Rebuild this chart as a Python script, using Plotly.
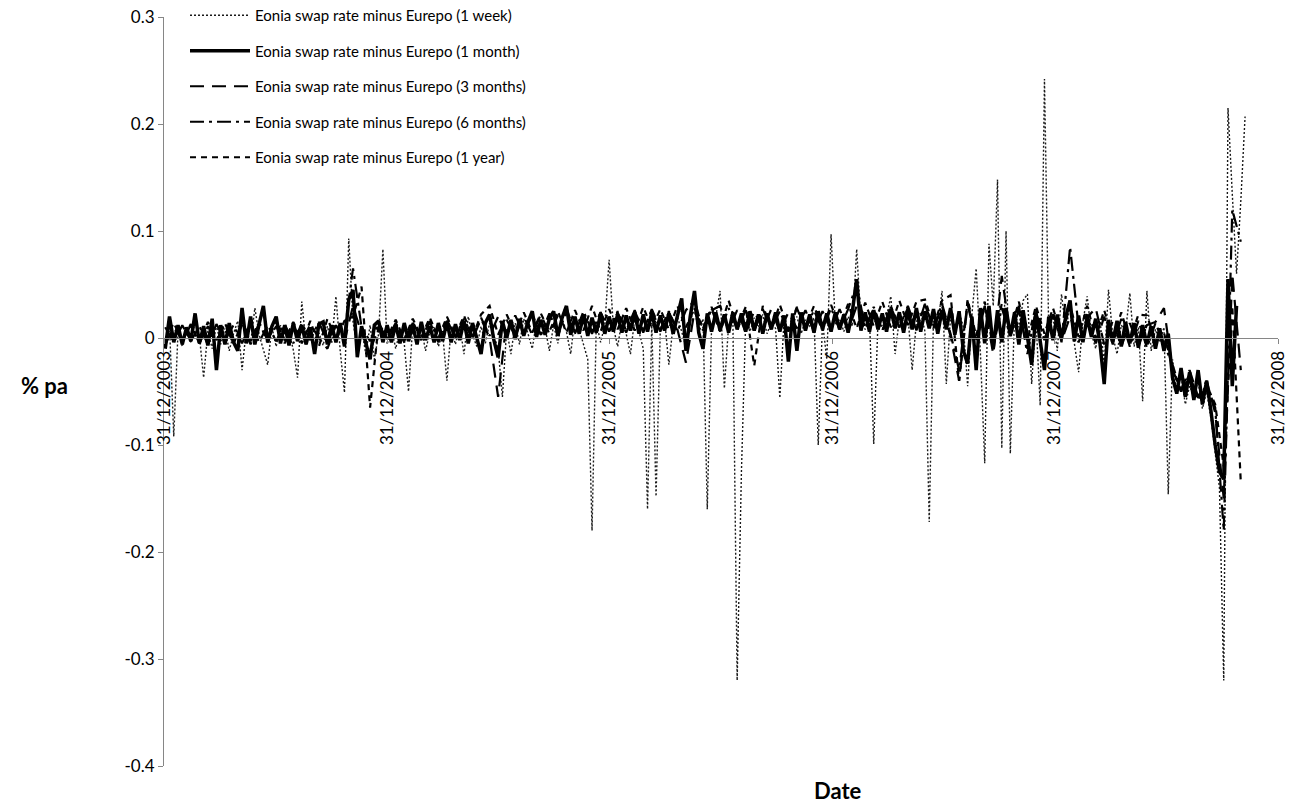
import plotly.graph_objects as go
import pandas as pd

# ---------------- data (weekly / fortnightly samples) -------------
series_names = [
    "Eonia swap rate minus Eurepo (1 week)",
    "Eonia swap rate minus Eurepo (1 month)",
    "Eonia swap rate minus Eurepo (3 months)",
    "Eonia swap rate minus Eurepo (6 months)",
    "Eonia swap rate minus Eurepo (1 year)",
]

week_dates = pd.date_range("2004-01-02", periods=254, freq="7D")
fortnight_dates = pd.date_range("2004-01-02", periods=127, freq="14D")

spread_1w = [
    # 2004
    -0.005, 0.012, -0.092, 0.006, -0.008, 0.010, -0.004, 0.015, 0.002, -0.037, 0.007, -0.010, 0.012,
    -0.006, 0.009, -0.012, 0.004, 0.016, -0.030, 0.008, -0.005, 0.028, 0.003, -0.010, -0.025, 0.010,
    -0.008, 0.012, -0.004, 0.006, -0.011, -0.037, 0.034, -0.006, 0.010, -0.012, 0.005, -0.007, 0.011,
    -0.005, 0.039, -0.012, -0.051, 0.093, 0.015, -0.010, 0.008, -0.015, 0.012, -0.020, 0.004, 0.083,
    # 2005
    -0.006, 0.010, -0.010, 0.007, -0.005, -0.050, 0.012, -0.004, 0.009, -0.012, 0.006, 0.011, -0.008,
    0.004, -0.040, 0.010, -0.006, 0.012, -0.015, 0.020, 0.003, -0.008, 0.011, -0.005, 0.014, 0.002,
    -0.010, -0.055, 0.008, -0.015, 0.014, -0.006, 0.018, 0.004, -0.010, 0.016, 0.002, 0.010, -0.012,
    0.012, -0.005, 0.018, 0.006, -0.015, 0.020, 0.008, -0.006, -0.020, -0.180, 0.015, -0.004, 0.012,
    # 2006
    0.073, 0.010, -0.008, 0.016, 0.004, -0.015, 0.018, 0.006, -0.010, -0.160, 0.014, -0.148, 0.009,
    0.017, -0.025, 0.012, 0.020, 0.006, -0.008, 0.015, 0.028, 0.004, 0.018, -0.160, 0.010, 0.020,
    0.044, -0.047, 0.012, 0.018, -0.320, -0.125, 0.016, 0.006, 0.019, 0.010, 0.022, 0.004, 0.015,
    0.009, -0.056, 0.018, 0.006, 0.014, 0.020, 0.004, 0.017, 0.011, 0.019, -0.100, 0.015, -0.020,
    # 2007
    0.097, 0.012, 0.018, 0.006, 0.020, 0.011, 0.083, 0.014, 0.008, 0.019, -0.099, 0.016, 0.010,
    0.020, 0.039, -0.015, 0.018, 0.008, 0.022, -0.030, 0.015, 0.024, 0.006, -0.172, 0.019, 0.012,
    0.044, -0.043, 0.020, 0.006, 0.025, 0.010, -0.045, 0.022, 0.065, -0.015, -0.117, 0.088, 0.030,
    0.148, -0.103, 0.100, -0.108, 0.025, 0.010, 0.035, 0.041, -0.043, 0.018, -0.063, 0.242, 0.005,
    # 2008
    0.020, -0.012, 0.041, 0.008, 0.030, -0.005, -0.032, 0.015, 0.039, 0.004, -0.010, 0.018, -0.025,
    0.045, 0.002, -0.015, 0.012, 0.006, 0.042, -0.008, 0.010, -0.059, 0.044, -0.012, 0.008, -0.004,
    0.010, -0.146, -0.020, -0.050, -0.035, -0.062, -0.045, -0.055, -0.040, -0.066, -0.050, -0.075, -0.110,
    -0.140, -0.320, 0.215, 0.135, 0.060, 0.128, 0.207,
]

spread_1m = [
    # 2004
    -0.010, 0.020, -0.004, 0.012, -0.006, 0.010, -0.003, 0.023, -0.005, 0.011, -0.007, 0.018, -0.030,
    0.012, -0.006, 0.014, -0.004, -0.012, 0.028, -0.005, 0.020, -0.006, 0.013, 0.030, -0.004, 0.011,
    0.020, -0.005, 0.012, -0.007, 0.014, -0.003, 0.012, -0.006, 0.010, -0.015, 0.013, 0.015, -0.006,
    0.012, -0.004, 0.014, -0.008, 0.036, 0.045, -0.018, 0.011, -0.006, -0.020, 0.012, 0.016, -0.004,
    # 2005
    0.012, -0.004, 0.013, -0.005, 0.014, -0.003, 0.012, -0.006, 0.015, -0.002, 0.011, -0.004, 0.014,
    -0.003, 0.015, -0.004, 0.013, -0.002, 0.016, -0.005, 0.014, 0.000, -0.015, 0.014, 0.022, -0.002,
    -0.018, 0.016, 0.000, 0.017, -0.001, 0.018, 0.002, 0.015, 0.025, 0.001, 0.017, 0.003, 0.018,
    0.025, 0.002, 0.019, 0.030, 0.003, 0.020, 0.004, 0.021, 0.002, 0.019, 0.005, 0.022, 0.004,
    # 2006
    0.020, 0.006, 0.022, 0.005, 0.021, 0.007, 0.023, 0.004, 0.022, 0.006, 0.024, 0.005, 0.021,
    0.007, 0.023, 0.004, 0.022, 0.037, -0.012, 0.020, 0.044, 0.005, -0.010, 0.023, 0.006, 0.024,
    0.007, 0.022, 0.005, 0.024, 0.008, 0.023, 0.006, 0.025, 0.007, 0.022, 0.004, 0.023, 0.008,
    0.024, 0.006, 0.021, -0.022, 0.023, -0.012, 0.024, 0.007, 0.022, 0.005, 0.025, 0.008, 0.023,
    # 2007
    0.006, 0.024, 0.008, 0.022, 0.005, 0.025, 0.055, 0.007, 0.024, 0.006, 0.026, 0.008, 0.023,
    0.006, 0.027, 0.009, 0.024, 0.005, 0.026, 0.008, 0.028, 0.006, 0.025, 0.009, 0.027, 0.004,
    0.026, 0.008, 0.028, 0.003, 0.025, -0.012, -0.024, 0.020, -0.030, 0.028, -0.005, 0.030, -0.010,
    0.026, -0.004, 0.028, 0.002, 0.024, -0.006, 0.026, 0.001, -0.025, 0.024, -0.002, -0.030, 0.020,
    # 2008
    -0.002, 0.022, 0.000, 0.020, 0.035, -0.003, 0.021, -0.004, 0.019, 0.001, 0.018, -0.005, -0.043,
    0.017, -0.004, 0.016, -0.008, 0.015, -0.005, 0.014, -0.009, 0.012, -0.006, 0.011, -0.010, 0.009,
    -0.012, 0.004, -0.037, -0.052, -0.028, -0.055, -0.032, -0.058, -0.030, -0.062, -0.040, -0.068, -0.100,
    -0.125, -0.132, 0.055, -0.045, 0.030,
]

spread_3m = [
    # 2004
    -0.006, 0.010, -0.002, 0.012, -0.005, 0.011, -0.003, 0.013, -0.004, 0.012, -0.006, 0.014, -0.002,
    0.011, -0.005, 0.012, -0.004, 0.013, 0.000, -0.010, 0.012, -0.003, 0.030, 0.004, -0.012, 0.010,
    # 2005
    -0.003, 0.013, -0.004, 0.014, -0.002, 0.015, -0.004, 0.016, 0.001, 0.015, -0.001, 0.018, 0.000,
    -0.055, 0.017, 0.002, 0.020, 0.003, 0.022, 0.004, 0.021, 0.028, 0.005, 0.022, 0.004, 0.024,
    # 2006
    0.006, 0.024, 0.005, 0.025, 0.007, 0.026, 0.006, 0.024, 0.008, -0.023, 0.025, 0.006, 0.026,
    0.030, 0.007, 0.026, 0.005, 0.025, 0.008, 0.027, 0.006, 0.024, 0.009, 0.026, 0.006, 0.025,
    # 2007
    0.008, 0.027, 0.007, 0.030, 0.009, 0.028, 0.006, 0.029, 0.010, 0.030, 0.007, 0.032, 0.008,
    0.030, 0.002, -0.040, 0.032, -0.005, 0.030, -0.015, 0.058, 0.002, 0.026, -0.010, 0.024, -0.002,
    # 2008
    0.022, -0.003, 0.020, -0.004, 0.019, 0.028, -0.006, 0.016, -0.008, 0.014, -0.007, 0.012, 0.015,
    0.028, -0.030, -0.048, -0.030, -0.055, -0.040, -0.070, -0.150, 0.060, -0.030,
]

spread_6m = [
    # 2004
    0.010, -0.004, 0.012, -0.003, 0.011, -0.006, 0.013, -0.002, 0.012, -0.005, 0.014, -0.004, 0.012,
    -0.003, 0.013, -0.005, 0.014, -0.002, 0.015, -0.004, 0.013, 0.005, 0.065, 0.010, -0.003, 0.014,
    # 2005
    -0.002, 0.014, -0.003, 0.015, -0.001, 0.016, -0.002, 0.017, 0.000, 0.018, 0.001, 0.019, 0.002,
    0.020, 0.003, 0.021, 0.004, 0.022, 0.003, 0.023, 0.005, 0.024, 0.004, 0.025, 0.006, 0.024,
    # 2006
    0.006, 0.025, 0.007, 0.026, 0.005, 0.027, 0.008, 0.025, 0.006, 0.026, 0.035, 0.007, 0.027,
    0.006, 0.028, 0.008, 0.026, 0.007, 0.027, 0.009, 0.025, 0.006, 0.028, 0.008, 0.026, 0.007,
    # 2007
    0.028, 0.008, 0.027, 0.050, 0.009, 0.029, 0.007, 0.030, 0.010, 0.028, 0.008, 0.031, 0.009,
    0.032, 0.004, -0.030, 0.034, -0.004, 0.030, -0.008, 0.028, 0.002, 0.030, -0.015, 0.026, -0.002,
    # 2008
    0.024, -0.004, 0.085, 0.010, 0.022, -0.005, 0.020, -0.006, 0.018, -0.008, 0.016, -0.009, 0.014,
    -0.006, -0.025, -0.050, -0.034, -0.058, -0.045, -0.065, -0.180, 0.120, 0.090,
]

spread_1y = [
    # 2004
    -0.002, 0.014, -0.003, 0.013, -0.005, 0.015, -0.002, 0.014, -0.006, 0.016, -0.003, 0.015, -0.004,
    0.017, -0.002, 0.015, -0.005, 0.016, -0.008, 0.018, -0.001, 0.016, 0.020, 0.048, -0.065, 0.014,
    # 2005
    0.000, 0.017, -0.001, 0.018, 0.001, 0.019, 0.000, 0.020, 0.002, 0.021, 0.001, 0.022, 0.030,
    0.003, 0.022, 0.004, 0.024, 0.005, 0.023, 0.006, 0.025, 0.005, 0.026, 0.007, 0.030, 0.006,
    # 2006
    0.027, 0.008, 0.028, 0.007, 0.029, 0.009, 0.027, 0.008, 0.030, 0.010, 0.028, 0.009, 0.029,
    0.008, 0.035, 0.010, 0.029, -0.026, 0.030, 0.009, 0.031, 0.008, 0.029, 0.010, 0.030, 0.009,
    # 2007
    0.031, 0.010, 0.032, 0.009, 0.033, 0.011, 0.034, 0.010, 0.035, 0.012, 0.034, 0.036, 0.011,
    0.035, 0.040, -0.040, 0.036, 0.002, 0.034, -0.004, 0.032, 0.006, 0.034, -0.002, 0.030, 0.004,
    # 2008
    0.028, 0.002, 0.030, 0.001, 0.030, 0.000, 0.026, -0.002, 0.024, -0.003, 0.022, 0.021, -0.002,
    0.005, -0.028, -0.050, -0.036, -0.056, -0.044, -0.062, -0.120, 0.030, -0.135,
]

x_tick_dates = ["2003-12-31", "2004-12-31", "2005-12-31", "2006-12-31", "2007-12-31", "2008-12-31"]
x_tick_labels = ["31/12/2003", "31/12/2004", "31/12/2005", "31/12/2006", "31/12/2007", "31/12/2008"]
y_tick_values = [-0.4, -0.3, -0.2, -0.1, 0.0, 0.1, 0.2, 0.3]
y_tick_labels = ["-0.4", "-0.3", "-0.2", "-0.1", "0", "0.1", "0.2", "0.3"]

# ---------------- figure -------------------------------------------------------------------
series = [
    (spread_1w, week_dates, dict(color="#1a1a1a", width=1.4, dash="2px,2px")),
    (spread_1m, week_dates, dict(color="black", width=3.5)),
    (spread_3m, fortnight_dates, dict(color="black", width=2.2, dash="14px,8px")),
    (spread_6m, fortnight_dates, dict(color="black", width=2.2, dash="14px,5px,3px,5px")),
    (spread_1y, fortnight_dates, dict(color="black", width=2.2, dash="6px,5px")),
]

fig = go.Figure()
for name, (vals, dts, line) in zip(series_names, series):
    fig.add_trace(go.Scatter(
        x=dts[:len(vals)], y=vals, mode="lines", name=name,
        line=line, legendgroup=name,
    ))

# geometry (pixels): plot area x=164..1278, y=17..766
W, H = 1295, 808
M_L, M_R, M_T, M_B = 164, 17, 17, 42
plot_w = W - M_L - M_R
plot_h = H - M_T - M_B
y_min, y_max = -0.4, 0.3
zero_frac = (0 - y_min) / (y_max - y_min)

def px_to_paper(px_x, px_y):
    return (px_x - M_L) / plot_w, (H - M_B - px_y) / plot_h

legend_top_px = -1
axis_grey = "#868686"
fig.update_layout(
    width=W, height=H,
    margin=dict(l=M_L, r=M_R, t=M_T, b=M_B, autoexpand=False),
    paper_bgcolor="white", plot_bgcolor="white",
    font=dict(family="Lato, 'Open Sans', sans-serif", color="black", size=17),
    showlegend=True,
    legend=dict(
        x=px_to_paper(185, 0)[0], y=px_to_paper(0, legend_top_px)[1],
        xanchor="left", yanchor="top",
        bgcolor="rgba(0,0,0,0)", font=dict(size=15, color="black"),
        itemwidth=60, tracegroupgap=13, traceorder="grouped",
    ),
    xaxis=dict(
        type="date", range=["2003-12-31", "2008-12-31"],
        tickmode="array", tickvals=x_tick_dates, ticktext=x_tick_labels,
        tickangle=-90, tickfont=dict(size=17, color="black"),
        anchor="free", position=zero_frac, automargin=False,
        showline=True, linecolor=axis_grey, linewidth=1,
        ticks="outside", ticklen=5, tickcolor=axis_grey,
        showgrid=False, zeroline=False,
    ),
    yaxis=dict(
        range=[y_min, y_max], tickmode="array", automargin=False,
        tickvals=y_tick_values, ticktext=y_tick_labels,
        tickfont=dict(size=17, color="black"),
        showline=True, linecolor=axis_grey, linewidth=1,
        ticks="outside", ticklen=5, tickcolor=axis_grey,
        showgrid=False, zeroline=False,
    ),
)

for text, (px, py) in [("<b>% pa</b>", (44, 385)), ("<b>Date</b>", (838, 790))]:
    ax_, ay_ = px_to_paper(px, py)
    fig.add_annotation(text=text, x=ax_, y=ay_, xref="paper", yref="paper",
                       xanchor="center", yanchor="middle", showarrow=False,
                       font=dict(size=22, color="black"))

fig.write_html("out.html")
